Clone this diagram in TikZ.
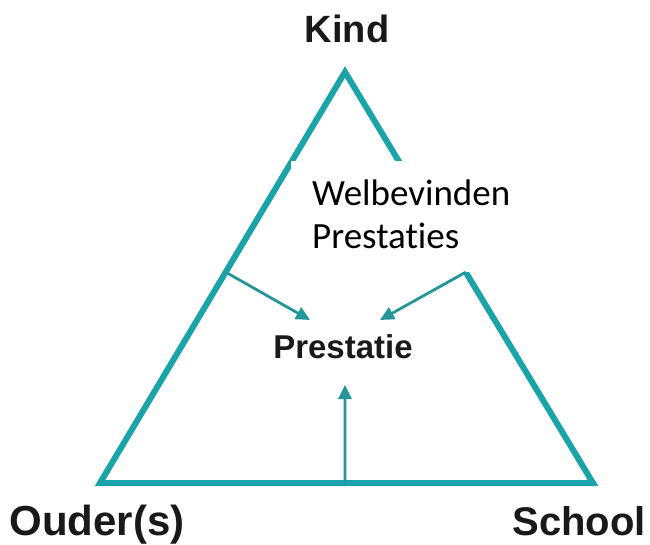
\documentclass[tikz,border=0pt]{standalone}
\usepackage{fontspec}
\setmainfont{Liberation Sans}
\newfontfamily\calibrifont[RawFeature={-liga}]{Carlito}
\usetikzlibrary{calc,arrows.meta}
\definecolor{tealline}{RGB}{27,163,170}
\definecolor{tealarrow}{RGB}{35,150,155}
\definecolor{labeltext}{RGB}{25,25,25}
\begin{document}
\begin{tikzpicture}[x=1pt,y=-1pt,
  edgeline/.style={draw=tealline,line width=6pt,line join=miter},
  arr/.style={draw=tealarrow,line width=2.8pt,-{Triangle[length=14pt,width=13pt]}},
  lbl/.style={font=\bfseries,text=labeltext,inner sep=0pt},
  midlbl/.style={font=\fontsize{33}{39}\selectfont\bfseries,text=labeltext,inner sep=0pt},
  boxtext/.style={font=\calibrifont\fontsize{37}{43}\selectfont,text=black,inner sep=0pt,align=left}]
\useasboundingbox (0,0) rectangle (650,544);
\fill[white] (0,0) rectangle (650,544);
\coordinate (K) at (345,72);
\coordinate (O) at (100,483);
\coordinate (S) at (593,483);
\draw[edgeline] (O) -- (K) -- (S) -- cycle;
\node[fill=white,minimum width=229pt,minimum height=111pt,anchor=north west,inner sep=0pt] (box) at (291,161) {};
\node[boxtext,anchor=base west] (wb) at (312,248) {Welbevinden\\Prestaties};
\coordinate (L1) at ($(K)!0.487!(O)$);
\coordinate (R1) at ($(K)!0.487!(S)$);
\coordinate (B1) at ($(O)!0.497!(S)$);
\coordinate (L2) at (310,320);
\coordinate (R2) at (380,320);
\coordinate (B2) at (345,385);
\draw[arr] (L1) -- (L2);
\draw[arr] (R1) -- (R2);
\draw[arr] (B1) -- (B2);
\node[midlbl,anchor=base] (prest) at (343,358) {Prestatie};
\node[lbl,anchor=base,font=\fontsize{38}{45}\selectfont\bfseries] (kind) at (347,42) {Kind};
\node[lbl,anchor=base,font=\fontsize{42}{50}\selectfont\bfseries] (ouder) at (97,535) {Ouder(s)};
\node[lbl,anchor=base,font=\fontsize{40}{48}\selectfont\bfseries] (school) at (579,535) {School};
\end{tikzpicture}
\end{document}
